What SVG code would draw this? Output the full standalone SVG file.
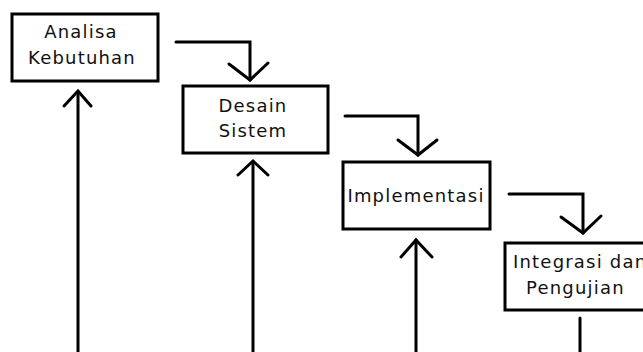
<svg xmlns="http://www.w3.org/2000/svg" width="643" height="352" viewBox="0 0 643 352">
<style>
.box{fill:#fff;stroke:#000;stroke-width:3}
.t{font-family:"DejaVu Sans",Verdana,sans-serif;font-size:18px;letter-spacing:1.2px;fill:#111}
.c{fill:none;stroke:#000;stroke-width:3;stroke-linecap:round;stroke-linejoin:miter}
</style>
<rect width="643" height="352" fill="#fff"/>
<g id="connectors">
<path class="c" d="M176 42 H250 V80"/>
<path class="c" d="M229 64 L250 80 L268 63"/>
<path class="c" d="M345 116 H418 V155"/>
<path class="c" d="M398 140 L418 155 L437 140"/>
<path class="c" d="M509 194 H583 V233"/>
<path class="c" d="M561 217 L583 233 L601 216"/>
<path class="c" d="M78 352 V92"/>
<path class="c" d="M64 106 L78 91 L91 106"/>
<path class="c" d="M253 352 V162"/>
<path class="c" d="M238 175 L253 161 L268 175"/>
<path class="c" d="M416 352 V240"/>
<path class="c" d="M401 257 L416 240 L432 257"/>
<path class="c" d="M580 318 V352"/>
</g>
<g id="analisa">
<rect class="box" x="12" y="14" width="146" height="67"/>
<text class="t" x="81" y="38" text-anchor="middle">Analisa</text>
<text class="t" x="82" y="64" text-anchor="middle">Kebutuhan</text>
</g>
<g id="desain">
<rect class="box" x="183" y="86" width="145" height="67"/>
<text class="t" x="253" y="112" text-anchor="middle">Desain</text>
<text class="t" x="253" y="137" text-anchor="middle">Sistem</text>
</g>
<g id="implementasi">
<rect class="box" x="343" y="162" width="147" height="67"/>
<text class="t" x="416" y="202" text-anchor="middle">Implementasi</text>
</g>
<g id="integrasi">
<rect class="box" x="505" y="243" width="150" height="67"/>
<text class="t" x="513" y="268">Integrasi dan</text>
<text class="t" x="526" y="294">Pengujian</text>
</g>
</svg>
